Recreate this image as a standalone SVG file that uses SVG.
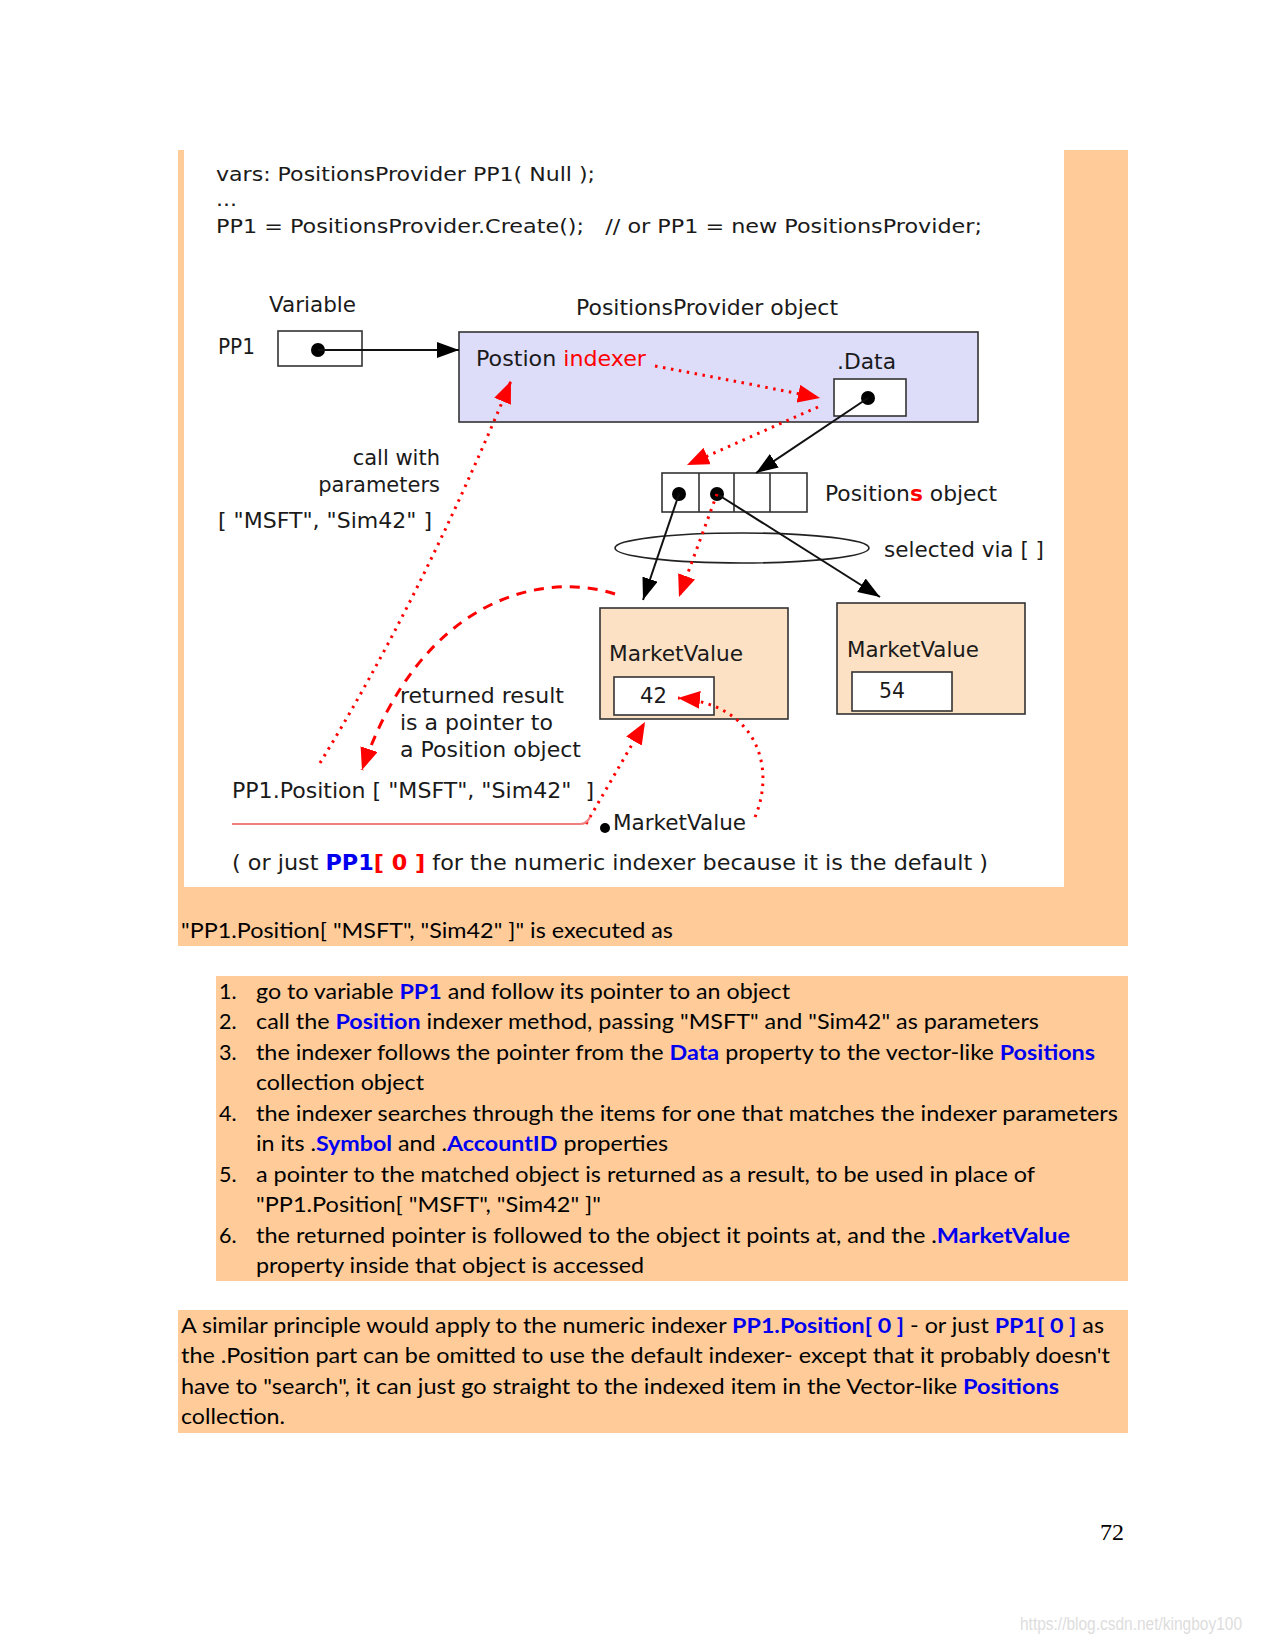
<svg xmlns="http://www.w3.org/2000/svg" width="1275" height="1650" viewBox="0 0 1275 1650">
<defs>
<style>
.dg{font-family:"DejaVu Sans","Liberation Sans",sans-serif;font-size:21px;fill:#1a1a1a}
.code{font-family:"DejaVu Sans","Liberation Sans",sans-serif;font-size:20px;fill:#1a1a1a}
.body{font-family:Lato,"Liberation Sans",sans-serif;font-size:21.5px;fill:#000}
.hl{fill:#0000ee;font-weight:bold}
.red{fill:#ff0000}
.box{stroke:#333;stroke-width:1.6}
.blk{stroke:#111;stroke-width:2;fill:none}
.dot{stroke:#ff0000;stroke-width:3;fill:none;stroke-dasharray:2.5 5.5}
.dash{stroke:#ff0000;stroke-width:3;fill:none;stroke-dasharray:10 8}
</style>
<marker id="ab" viewBox="0 0 22 16" refX="22" refY="8" markerWidth="22" markerHeight="16" markerUnits="userSpaceOnUse" orient="auto"><path d="M0,0 L22,8 L0,16 z" fill="#000"/></marker>
<marker id="ar" viewBox="0 0 22 18" refX="22" refY="9" markerWidth="22" markerHeight="18" markerUnits="userSpaceOnUse" orient="auto"><path d="M0,0 L22,9 L0,18 z" fill="#ff0000"/></marker>
</defs>
<rect width="1275" height="1650" fill="#fff"/>
<!-- panels -->
<rect x="178" y="150" width="950" height="796" fill="#ffcc99"/>
<rect x="184" y="150" width="880" height="737" fill="#fff"/>
<rect x="216" y="976" width="912" height="305" fill="#ffcc99"/>
<rect x="178" y="1310" width="950" height="123" fill="#ffcc99"/>

<!-- code -->
<g id="code">
<text class="code" x="216" y="181" textLength="379" lengthAdjust="spacingAndGlyphs">vars: PositionsProvider PP1( Null );</text>
<text class="code" x="216" y="206" textLength="21" lengthAdjust="spacingAndGlyphs">...</text>
<text class="code" x="216" y="233" textLength="766" lengthAdjust="spacingAndGlyphs" xml:space="preserve">PP1 = PositionsProvider.Create();   // or PP1 = new PositionsProvider;</text>
</g>

<!-- nodes -->
<g id="variable">
<text class="dg" x="269" y="312" textLength="87" lengthAdjust="spacingAndGlyphs">Variable</text>
<text class="dg" x="218" y="354" textLength="37" lengthAdjust="spacingAndGlyphs">PP1</text>
<rect class="box" x="278" y="331" width="84" height="35" fill="#fff"/>
<circle cx="318" cy="350" r="7" fill="#000"/>
</g>

<g id="provider">
<text class="dg" x="576" y="315" textLength="262" lengthAdjust="spacingAndGlyphs">PositionsProvider object</text>
<rect class="box" x="459" y="332" width="519" height="90" fill="#ddddfa"/>
<text class="dg" x="476" y="366" textLength="170" lengthAdjust="spacingAndGlyphs">Postion <tspan class="red">indexer</tspan></text>
<text class="dg" x="837" y="369" textLength="59" lengthAdjust="spacingAndGlyphs">.Data</text>
<rect class="box" x="834" y="379" width="72" height="37" fill="#fff"/>
<circle cx="868" cy="398" r="7" fill="#000"/>
</g>

<g id="positions">
<rect class="box" x="662" y="473" width="145" height="39" fill="#fff"/>
<line class="box" x1="699" y1="473" x2="699" y2="512"/>
<line class="box" x1="734" y1="473" x2="734" y2="512"/>
<line class="box" x1="770" y1="473" x2="770" y2="512"/>
<circle cx="679" cy="494" r="7" fill="#000"/>
<circle cx="717" cy="494" r="7" fill="#000"/>
<text class="dg" x="825" y="501" textLength="172" lengthAdjust="spacingAndGlyphs">Position<tspan class="red" font-weight="bold">s</tspan> object</text>
</g>

<g id="selector">
<ellipse cx="742" cy="548" rx="127" ry="15" fill="none" stroke="#222" stroke-width="1.6"/>
<text class="dg" x="884" y="557" textLength="160" lengthAdjust="spacingAndGlyphs">selected via [ ]</text>
</g>

<g id="marketvalue1">
<rect class="box" x="600" y="608" width="188" height="111" fill="#fde1c4"/>
<text class="dg" x="609" y="661" textLength="134" lengthAdjust="spacingAndGlyphs">MarketValue</text>
<rect class="box" x="614" y="677" width="100" height="38" fill="#fff"/>
<text class="dg" x="640" y="703" textLength="27" lengthAdjust="spacingAndGlyphs">42</text>
</g>

<g id="marketvalue2">
<rect class="box" x="837" y="603" width="188" height="111" fill="#fde1c4"/>
<text class="dg" x="847" y="657" textLength="132" lengthAdjust="spacingAndGlyphs">MarketValue</text>
<rect class="box" x="852" y="672" width="100" height="39" fill="#fff"/>
<text class="dg" x="879" y="698" textLength="26" lengthAdjust="spacingAndGlyphs">54</text>
</g>

<g id="labels">
<text class="dg" x="440" y="465" text-anchor="end">call with</text>
<text class="dg" x="440" y="492" text-anchor="end">parameters</text>
<text class="dg" x="218" y="528" textLength="214" lengthAdjust="spacingAndGlyphs">[ "MSFT", "Sim42" ]</text>
<text class="dg" x="400" y="703" textLength="164" lengthAdjust="spacingAndGlyphs">returned result</text>
<text class="dg" x="400" y="730" textLength="153" lengthAdjust="spacingAndGlyphs">is a pointer to</text>
<text class="dg" x="400" y="757" textLength="181" lengthAdjust="spacingAndGlyphs">a Position object</text>
</g>

<g id="expression">
<text class="dg" x="232" y="798" textLength="362" lengthAdjust="spacingAndGlyphs" xml:space="preserve">PP1.Position [ "MSFT", "Sim42"  ]</text>
<circle cx="605" cy="828" r="5" fill="#000"/>
<text class="dg" x="613" y="830" textLength="133" lengthAdjust="spacingAndGlyphs">MarketValue</text>
<text class="dg" x="232" y="870" textLength="756" lengthAdjust="spacingAndGlyphs">( or just <tspan class="hl" fill="#0000ff">PP1</tspan><tspan class="red" font-weight="bold">[ 0 ]</tspan> for the numeric indexer because it is the default )</text>
</g>

<!-- connectors -->
<g id="connectors">
<line class="blk" x1="318" y1="350" x2="459" y2="350" marker-end="url(#ab)"/>
<line class="blk" x1="868" y1="398" x2="756" y2="473" marker-end="url(#ab)"/>
<line class="blk" x1="679" y1="494" x2="643" y2="600" marker-end="url(#ab)"/>
<line class="blk" x1="717" y1="494" x2="880" y2="597" marker-end="url(#ab)"/>
<path class="dot" d="M655,366 Q740,382 820,398" marker-end="url(#ar)"/>
<path class="dot" d="M818,407 L687,465" marker-end="url(#ar)"/>
<path class="dot" d="M717,494 L679,597" marker-end="url(#ar)"/>
<path class="dot" d="M320,763 Q420,600 511,381" marker-end="url(#ar)"/>
<path class="dash" d="M615,594 C540,570 420,600 362,770" marker-end="url(#ar)"/>
<path class="dot" d="M586,824 L645,722" marker-end="url(#ar)"/>
<path class="dot" d="M755,817 C775,770 760,705 678,698" marker-end="url(#ar)"/>
<path d="M232,824 L580,824 Q587,824 590,817" fill="none" stroke="#f08080" stroke-width="2"/>
</g>

<!-- text below -->
<g id="explanation">
<text class="body" x="181" y="938" textLength="492" lengthAdjust="spacingAndGlyphs">"PP1.Position[ "MSFT", "Sim42" ]" is executed as</text>
<text class="body" x="219" y="999">1.</text>
<text class="body" x="256" y="999" textLength="534" lengthAdjust="spacingAndGlyphs">go to variable <tspan class="hl">PP1</tspan> and follow its pointer to an object</text>
<text class="body" x="219" y="1029">2.</text>
<text class="body" x="256" y="1029" textLength="783" lengthAdjust="spacingAndGlyphs">call the <tspan class="hl">Position</tspan> indexer method, passing "MSFT" and "Sim42" as parameters</text>
<text class="body" x="219" y="1060">3.</text>
<text class="body" x="256" y="1060" textLength="839" lengthAdjust="spacingAndGlyphs">the indexer follows the pointer from the <tspan class="hl">Data</tspan> property to the vector-like <tspan class="hl">Positions</tspan></text>
<text class="body" x="256" y="1090" textLength="168" lengthAdjust="spacingAndGlyphs">collection object</text>
<text class="body" x="219" y="1121">4.</text>
<text class="body" x="256" y="1121" textLength="862" lengthAdjust="spacingAndGlyphs">the indexer searches through the items for one that matches the indexer parameters</text>
<text class="body" x="256" y="1151" textLength="412" lengthAdjust="spacingAndGlyphs">in its .<tspan class="hl">Symbol</tspan> and .<tspan class="hl">AccountID</tspan> properties</text>
<text class="body" x="219" y="1182">5.</text>
<text class="body" x="256" y="1182" textLength="779" lengthAdjust="spacingAndGlyphs">a pointer to the matched object is returned as a result, to be used in place of</text>
<text class="body" x="256" y="1212" textLength="345" lengthAdjust="spacingAndGlyphs">"PP1.Position[ "MSFT", "Sim42" ]"</text>
<text class="body" x="219" y="1243">6.</text>
<text class="body" x="256" y="1243" textLength="814" lengthAdjust="spacingAndGlyphs">the returned pointer is followed to the object it points at, and the .<tspan class="hl">MarketValue</tspan></text>
<text class="body" x="256" y="1273" textLength="388" lengthAdjust="spacingAndGlyphs">property inside that object is accessed</text>

<text class="body" x="181" y="1333" textLength="923" lengthAdjust="spacingAndGlyphs">A similar principle would apply to the numeric indexer <tspan class="hl">PP1.Position[ 0 ]</tspan> - or just <tspan class="hl">PP1[ 0 ]</tspan> as</text>
<text class="body" x="181" y="1363" textLength="929" lengthAdjust="spacingAndGlyphs">the .Position part can be omitted to use the default indexer- except that it probably doesn't</text>
<text class="body" x="181" y="1394" textLength="878" lengthAdjust="spacingAndGlyphs">have to "search", it can just go straight to the indexed item in the Vector-like <tspan class="hl">Positions</tspan></text>
<text class="body" x="181" y="1424" textLength="104" lengthAdjust="spacingAndGlyphs">collection.</text>
</g>

<text x="1100" y="1540" font-family="'Liberation Serif',serif" font-size="24" fill="#000">72</text>
<text x="1020" y="1630" font-family="'Liberation Sans',sans-serif" font-size="18" fill="#dddddd" textLength="222" lengthAdjust="spacingAndGlyphs">https://blog.csdn.net/kingboy100</text>
</svg>
